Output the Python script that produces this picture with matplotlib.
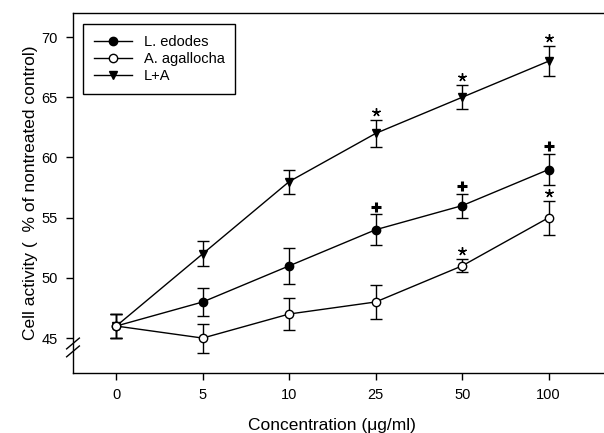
import matplotlib.pyplot as plt
from matplotlib.lines import Line2D

plt.rcParams['font.family'] = ['Liberation Sans', 'DejaVu Sans']

conc = ["0", "5", "10", "25", "50", "100"]
edodes = [46, 48, 51, 54, 56, 59]
edodes_err = [1.0, 1.15, 1.5, 1.3, 1.0, 1.3]
agallocha = [46, 45, 47, 48, 51, 55]
agallocha_err = [1.0, 1.2, 1.3, 1.45, 0.55, 1.4]
combo = [46, 52, 58, 62, 65, 68]
combo_err = [1.0, 1.05, 1.0, 1.15, 1.0, 1.25]

star_combo = [3, 4, 5]
cross_edodes = [3, 4, 5]
star_agallocha = [4, 5]

x = list(range(len(conc)))

fig = plt.figure(figsize=(6.04, 4.33), dpi=100)
ax = fig.add_axes([73/604, 1 - 373/433, 1 - 73/604, 360/433])

kw = dict(color='black', lw=1.0, capsize=4, elinewidth=1.0, capthick=1.0, markersize=6)
ax.errorbar(x, edodes, yerr=edodes_err, fmt='-o', mfc='black', mec='black', **kw)
ax.errorbar(x, agallocha, yerr=agallocha_err, fmt='-o', mfc='white', mec='black', **kw)
ax.errorbar(x, combo, yerr=combo_err, fmt='-v', mfc='black', mec='black', zorder=1, **kw)

# significance marks
sx = [x[i] for i in star_combo]
sy = [combo[i] + combo_err[i] + 0.65 for i in star_combo]
ax.plot(sx, sy, ls='none', marker=(5, 2, 0), ms=6, mew=1.0, color='black')
sx = [x[i] for i in star_agallocha]
sy = [agallocha[i] + agallocha_err[i] + 0.65 for i in star_agallocha]
ax.plot(sx, sy, ls='none', marker=(5, 2, 0), ms=6, mew=1.0, color='black')
cx = [x[i] for i in cross_edodes]
cy = [edodes[i] + edodes_err[i] + 0.62 for i in cross_edodes]
ax.plot(cx, cy, ls='none', marker='+', ms=7, mew=2.2, color='black')

ax.set_xlim(-0.5, 5.64)
ax.set_ylim(42.1, 72.0)
ax.set_xticks(x)
ax.set_xticklabels(conc)
ax.set_yticks([45, 50, 55, 60, 65, 70])
ax.tick_params(direction='out', length=5, width=1, labelsize=10.5, pad=6)
ax.spines['right'].set_visible(False)
for s in ['left', 'bottom', 'top']:
    ax.spines[s].set_linewidth(1.0)

# axis break marks
for dy in [0.0, 0.022]:
    ax.plot([-0.012, 0.012], [0.045 + dy, 0.075 + dy], transform=ax.transAxes,
            color='black', lw=1.0, clip_on=False)

ax.set_xlabel('Concentration (\u03bcg/ml)', fontsize=12.5)
ax.xaxis.set_label_coords(0.488, -0.125)
ax.set_ylabel('Cell activity (  % of nontreated control)', fontsize=12.5)
ax.yaxis.set_label_coords(-0.066, 0.5)

handles = [
    Line2D([], [], color='black', lw=1.0, marker='o', mfc='black', mec='black', ms=6),
    Line2D([], [], color='black', lw=1.0, marker='o', mfc='white', mec='black', ms=6),
    Line2D([], [], color='black', lw=1.0, marker='v', mfc='black', mec='black', ms=6),
]
labels = ['L. edodes', 'A. agallocha', 'L+A']
leg = ax.legend(handles, labels, loc='upper left', bbox_to_anchor=(0.019, 0.969), borderaxespad=0,
                fancybox=False, edgecolor='black', framealpha=1, fontsize=10.5, handlelength=2.6,
                borderpad=0.75, labelspacing=0.2, handletextpad=0.8)
leg.get_frame().set_linewidth(1.0)

fig.savefig('out.png', dpi=100)
